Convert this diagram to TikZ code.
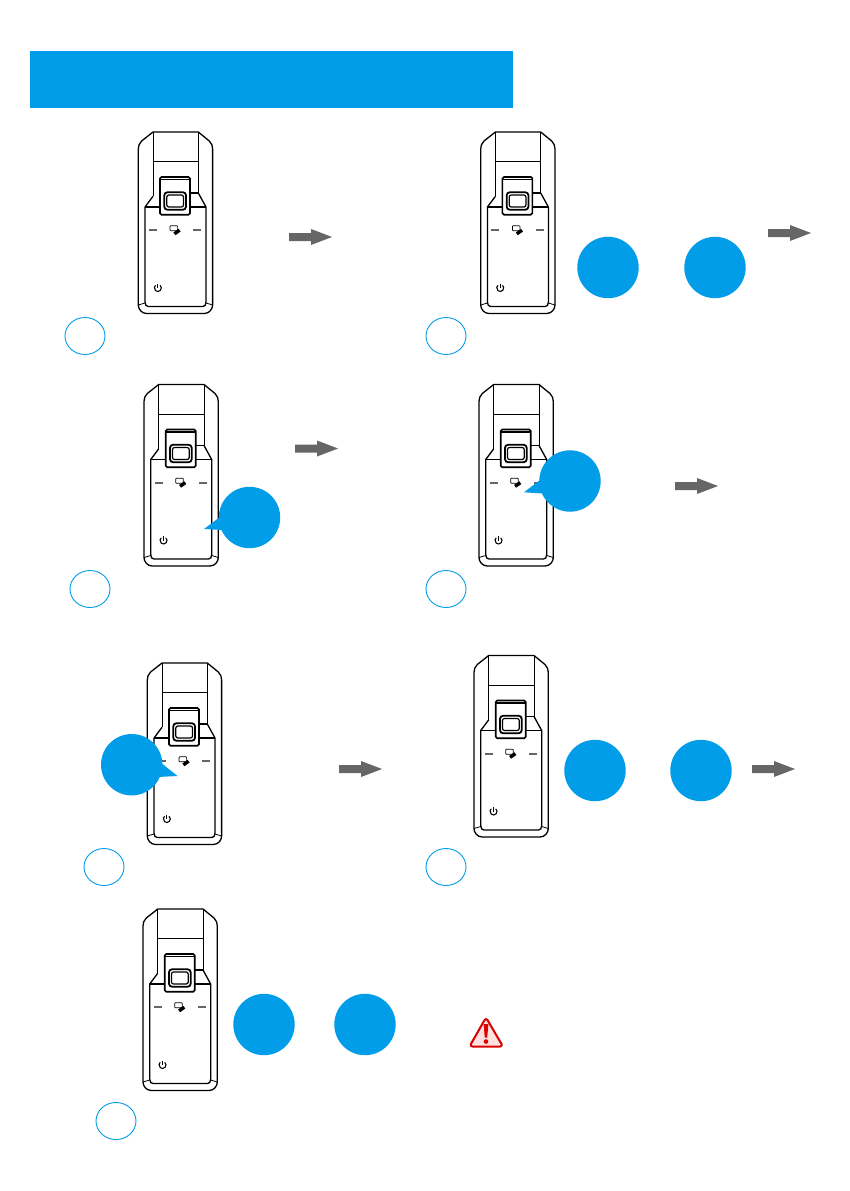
\documentclass[tikz,border=0pt]{standalone}
\usepackage{tikz}
\usetikzlibrary{arrows.meta, positioning, calc}
\definecolor{headblue}{HTML}{029DE9}
\definecolor{arrowgray}{HTML}{666666}
\tikzset{
  stepring/.style={draw=headblue, line width=0.9bp, fill=white},
  bubble/.style={fill=headblue},
  nextarrow/.pic={
    \fill[arrowgray] (0,-4) -- (22,-4) -- (22,-8) -- (43,0) -- (22,8) -- (22,4) -- (0,4) -- cycle;
  },
  remote/.pic={
    % outer shell
    \draw[line width=1.3bp, line join=round, fill=white]
      (14.7,0) -- (60,0) -- (71,9) .. controls (73.5,11.5) and (74.3,14) .. (74.3,17)
      -- (74.3,173) .. controls (74.3,177) and (71,181.5) .. (66,181.5)
      -- (8.3,181.5) .. controls (3.3,181.5) and (0,177) .. (0,173)
      -- (0,17) .. controls (0,14) and (0.8,11.5) .. (3.3,9) -- cycle;
    % top panel
    \draw[line width=1bp] (14.7,0) -- (14.7,64.3) (60,0) -- (60,61) (14.7,29.5) -- (60,29.5);
    % lower body
    \draw[line width=1.3bp, line join=round]
      (14.7,64.3) -- (6.7,75) -- (6.7,170) .. controls (6.7,173) and (8,174.5) .. (10,174.5)
      -- (64.5,174.5) .. controls (66.5,174.5) and (67.7,173) .. (67.7,170) -- (67.7,75) -- (60,61);
    \draw[line width=1.6bp] (6.7,75) -- (22,75) (51.7,75) -- (67.7,75) (51.7,61) -- (60,61);
    \draw[line width=0.8bp] (0,173) -- (6.7,171) (74.3,173) -- (67.7,171);
    % clip and sensor window
    \draw[line width=1.6bp, rounded corners=1.5bp, fill=white] (21.7,45) rectangle (51.7,82.7);
    \draw[line width=1.5bp] (21.7,47.5) -- (51.7,47.5);
    \draw[line width=1.8bp, rounded corners=3bp] (26,60.3) rectangle (47.7,77.7);
    \draw[line width=1.2bp, rounded corners=2bp] (28.5,63) rectangle (45.2,75);
    % marks and card symbol
    \draw[arrowgray, line width=1.7bp] (10.5,98.3) -- (18.5,98.3) (55,98.3) -- (63,98.3);
    \draw[line width=0.7bp, rounded corners=0.8bp] (31.7,93.7) rectangle (39.3,98.8);
    \fill[rotate around={35:(38.7,100)}] (35.5,98.3) rectangle (41.9,101.7);
    % power symbol
    \draw[line width=1.1bp] (21.75,153.3) arc[start angle=-50, end angle=230, radius=3.5];
    \draw[line width=1.1bp] (19.5,151.6) -- (19.5,156);
  }
}
\begin{document}
\begin{tikzpicture}[x=1bp, y=-1bp]
  \useasboundingbox (0,0) rectangle (850,1191);
  \fill[white] (0,0) rectangle (850,1191);

  % Title band
  \fill[headblue] (30,51) rectangle (513,108);

  % Remotes
  \pic at (138.3,132) {remote};
  \pic at (480.7,132) {remote};
  \pic at (144,384.5) {remote};
  \pic at (479,384.5) {remote};
  \pic at (147.3,663) {remote};
  \pic at (474,655.5) {remote};
  \pic at (143,909) {remote};

  % Step rings
  \draw[stepring] (85,336) ellipse (20 and 18.5);
  \draw[stepring] (446,336) ellipse (20 and 18.5);
  \draw[stepring] (90,589) ellipse (20 and 18.5);
  \draw[stepring] (446,589) ellipse (20 and 18.5);
  \draw[stepring] (104,867) ellipse (20 and 18.5);
  \draw[stepring] (446,867) ellipse (20 and 18.5);
  \draw[stepring] (116,1121) ellipse (20 and 18.5);

  % Plain bubbles
  \fill[bubble] (608,267.5) circle (30.7);
  \fill[bubble] (715,267.5) circle (30.7);
  \fill[bubble] (595,770.5) circle (30.7);
  \fill[bubble] (701,770.5) circle (30.7);
  \fill[bubble] (264,1024.5) circle (30.7);
  \fill[bubble] (365,1024.5) circle (30.7);

  % Bubbles with a pointer
  \fill[bubble] (249.5,517.5) circle (30.7);
  \fill[bubble] (220,517) -- (204,529) -- (223,530) -- cycle;
  \fill[bubble] (570,481) circle (30.7);
  \fill[bubble] (540,480) -- (524,492.3) -- (543,493.5) -- cycle;
  \fill[bubble] (131.7,764.7) circle (30.7);
  \fill[bubble] (160,762) -- (177.5,776) -- (157,777) -- cycle;

  % Arrows to the next step
  \pic at (289,237) {nextarrow};
  \pic at (768,233) {nextarrow};
  \pic at (295,448.5) {nextarrow};
  \pic at (675,486) {nextarrow};
  \pic at (339,769) {nextarrow};
  \pic at (752,769) {nextarrow};

  % Warning sign
  \draw[draw=red!85!black, fill=red!12, line width=2bp, line join=round, rounded corners=3bp]
    (486,1017.5) -- (503,1046.5) -- (469.5,1046.5) -- cycle;
  \fill[red!85!black] (483.6,1024) -- (488.4,1024) -- (487.2,1037.5) -- (484.8,1037.5) -- cycle;
  \fill[red!85!black] (486,1041.5) circle (2.3);
\end{tikzpicture}
\end{document}
